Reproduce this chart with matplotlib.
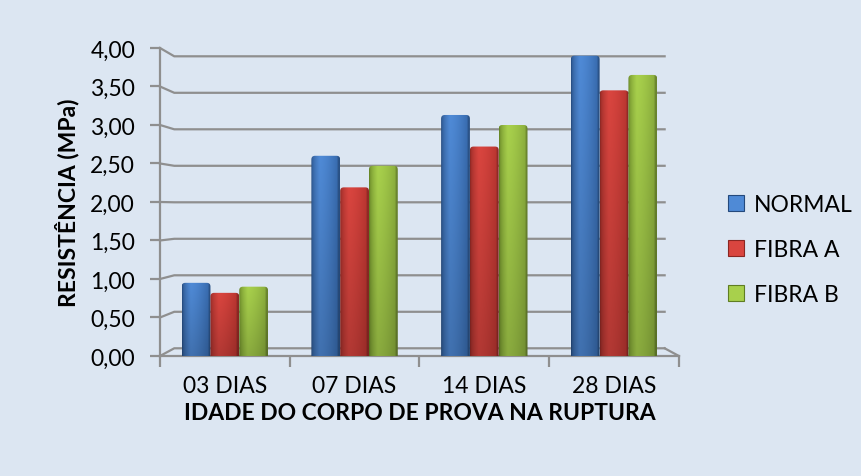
# Recreate the 3D-style column chart of concrete strength by age
import numpy as np
import matplotlib.pyplot as plt
from matplotlib.colors import to_rgb
from matplotlib.patches import Patch, FancyBboxPatch

plt.rcParams['font.family'] = ['Lato', 'DejaVu Sans']

categories = ['03 DIAS', '07 DIAS', '14 DIAS', '28 DIAS']
seriesNames = ['NORMAL', 'FIBRA A', 'FIBRA B']
normal = [0.95, 2.60, 3.13, 3.90]
fibraA = [0.82, 2.19, 2.72, 3.45]
fibraB = [0.90, 2.47, 3.00, 3.65]
yTicks = [0.0, 0.5, 1.0, 1.5, 2.0, 2.5, 3.0, 3.5, 4.0]
yTickLabels = ['0,00', '0,50', '1,00', '1,50', '2,00', '2,50', '3,00', '3,50', '4,00']

bgColor = '#dce6f2'
gridColor = '#8f8f8f'
fontSize = 16.5
# (dark edge, highlight, right side) for each series
shades = [('#24497c', '#4f8ad6', '#3466a8'),
          ('#8a2622', '#d9453f', '#b5332e'),
          ('#5f7d22', '#a8d04c', '#86a83a')]


def shadeBar(ax, patch, colors, nx=60, ny=40):
    """ Fill a bar with a cylinder-like gradient, clipped to a round-top box """
    x0, y0 = patch.get_x(), patch.get_y()
    w, h = patch.get_width(), patch.get_height()
    patch.set_visible(False)
    # rounded box, extended below zero so only the top corners show
    box = FancyBboxPatch((x0, y0 - 0.2), w, h + 0.2,
                         boxstyle='round,pad=0,rounding_size=0.028',
                         mutation_aspect=1.7, facecolor='none',
                         edgecolor='none', transform=ax.transData)
    ax.add_patch(box)
    dark, light, side = [np.array(to_rgb(c)) for c in colors]
    t = np.linspace(0, 1, nx)
    row = np.zeros((nx, 3))
    for i, v in enumerate(t):
        if v < 0.3:
            row[i] = dark + (light - dark) * np.sqrt(v / 0.3)
        else:
            row[i] = light + (side - light) * ((v - 0.3) / 0.7) ** 1.5
        if v > 0.93:
            row[i] = row[i] * 0.8
    vert = np.linspace(0.82, 1.0, ny)[:, None, None]
    img = np.clip(row[None, :, :] * vert, 0, 1)
    im = ax.imshow(img, extent=[x0, x0 + w, y0, y0 + h], origin='lower',
                   aspect='auto', zorder=3, interpolation='bilinear')
    im.set_clip_path(box)


def main():
    fig = plt.figure(figsize=(8.62, 4.77), dpi=100, facecolor=bgColor)
    ax = fig.add_axes([0.1856, 0.2516, 0.602, 0.6457])
    ax.set_facecolor(bgColor)

    # back wall gridlines with a short diagonal from the front axis
    backX0, backX1 = -0.39, 3.39
    for v in yTicks:
        vb = 0.10 + 0.948 * v
        ax.plot([-0.5, backX0, backX1], [v, vb, vb], color=gridColor,
                lw=1.6, zorder=1, clip_on=False, solid_joinstyle='miter')
    ax.plot([backX1, 3.5], [0.10, 0.0], color=gridColor, lw=1.6, zorder=1,
            clip_on=False)

    x = np.arange(len(categories))
    width = 0.222
    allSeries = [normal, fibraA, fibraB]
    for i, vals in enumerate(allSeries):
        bars = ax.bar(x + (i - 1) * width, vals, width, color=shades[i][1],
                      zorder=2, linewidth=0)
        for b in bars:
            shadeBar(ax, b, shades[i])

    ax.set_xlim(-0.5, 3.5)
    ax.set_ylim(0, 4.0)
    ax.set_yticks(yTicks)
    ax.set_yticklabels(yTickLabels)
    ax.set_xticks([-0.5, 0.5, 1.5, 2.5, 3.5])
    ax.set_xticklabels([])
    ax.set_xticks(x, minor=True)
    ax.set_xticklabels(categories, minor=True)
    ax.tick_params(axis='y', colors=gridColor, width=1.6, length=7, pad=11,
                   labelcolor='black', labelsize=fontSize)
    ax.tick_params(axis='x', which='major', colors=gridColor, width=1.6, length=8)
    ax.tick_params(axis='x', which='minor', length=0, pad=14,
                   labelcolor='black', labelsize=fontSize)
    for s in ['top', 'right']:
        ax.spines[s].set_visible(False)
    for s in ['left', 'bottom']:
        ax.spines[s].set_color(gridColor)
        ax.spines[s].set_linewidth(1.6)

    ax.set_xlabel('IDADE DO CORPO DE PROVA NA RUPTURA', fontsize=fontSize,
                  fontweight='bold', labelpad=4)
    ax.set_ylabel('RESISTÊNCIA (MPa)', fontsize=fontSize, fontweight='bold',
                  labelpad=8)

    handles = [Patch(facecolor=shades[i][1], edgecolor=shades[i][0], lw=0.8,
                     label=seriesNames[i]) for i in range(3)]
    fig.legend(handles=handles, loc='center left',
               bbox_to_anchor=(0.845, 0.475), frameon=False, fontsize=fontSize,
               handlelength=0.7, handleheight=0.7, handletextpad=0.4,
               labelspacing=1.05, borderpad=0, borderaxespad=0)

    fig.savefig('out.png', dpi=100, facecolor=bgColor)
    return 0


if __name__ == '__main__':
    main()
